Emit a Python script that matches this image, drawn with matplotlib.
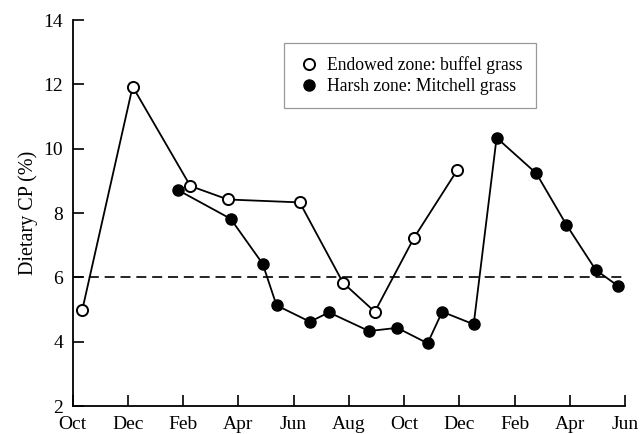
import matplotlib
matplotlib.use("Agg")
import matplotlib.pyplot as plt

# months since first October
endowed_x = [0.35, 2.17, 4.26, 5.62, 8.22, 9.79, 10.94, 12.36, 13.93]
endowed_y = [5.0, 11.93, 8.84, 8.42, 8.33, 5.83, 4.93, 7.23, 9.34]

harsh_x = [3.82, 5.72, 6.88, 7.38, 8.59, 9.28, 10.73, 11.75, 12.85, 13.38, 14.52,
           15.35, 16.79, 17.88, 18.94, 19.75]
harsh_y = [8.71, 7.82, 6.42, 5.13, 4.62, 4.91, 4.33, 4.43, 3.95, 4.93, 4.54,
           10.34, 9.23, 7.63, 6.23, 5.73]

tick_pos = [0, 2, 4, 6, 8, 10, 12, 14, 16, 18, 20]
tick_labels = ["Oct", "Dec", "Feb", "Apr", "Jun", "Aug", "Oct", "Dec", "Feb", "Apr", "Jun"]
threshold = 6

plt.rcParams['font.family'] = ['Liberation Serif', 'DejaVu Serif']

fig = plt.figure(figsize=(6.4, 4.34), dpi=100)
ax = fig.add_axes([0.1136, 0.0645, 0.8630, 0.8894])

ax.axhline(threshold, color='black', lw=1.2, ls=(0, (6, 3.5)), zorder=1)
ax.plot(endowed_x, endowed_y, '-o', color='black', lw=1.3, ms=8,
        mfc='white', mec='black', mew=1.4, label='Endowed zone: buffel grass', zorder=3)
ax.plot(harsh_x, harsh_y, '-o', color='black', lw=1.3, ms=8,
        mfc='black', mec='black', label='Harsh zone: Mitchell grass', zorder=3)

ax.set_xlim(0, 20)
ax.set_ylim(2, 14)
ax.set_xticks(tick_pos)
ax.set_xticklabels(tick_labels)
ax.set_yticks(range(2, 15, 2))
ax.tick_params(direction='in', length=8, width=1.2, labelsize=14, color='black')
ax.tick_params(axis='x', pad=7)
ax.tick_params(axis='y', pad=7)
for s in ['top', 'right']:
    ax.spines[s].set_visible(False)
for s in ['left', 'bottom']:
    ax.spines[s].set_linewidth(1.3)
ax.set_ylabel('Dietary CP (%)', fontsize=14.5, labelpad=4)

leg = ax.legend(loc='upper left', bbox_to_anchor=(0.382, 0.9396), frameon=True,
                fancybox=False, edgecolor='gray', fontsize=12.7, handlelength=1.4,
                handletextpad=0.3, borderpad=0.75, labelspacing=0.2, borderaxespad=0)
for h in leg.get_lines():
    h.set_linestyle('none')
leg.get_frame().set_linewidth(0.9)

fig.savefig('out.png', dpi=100)
